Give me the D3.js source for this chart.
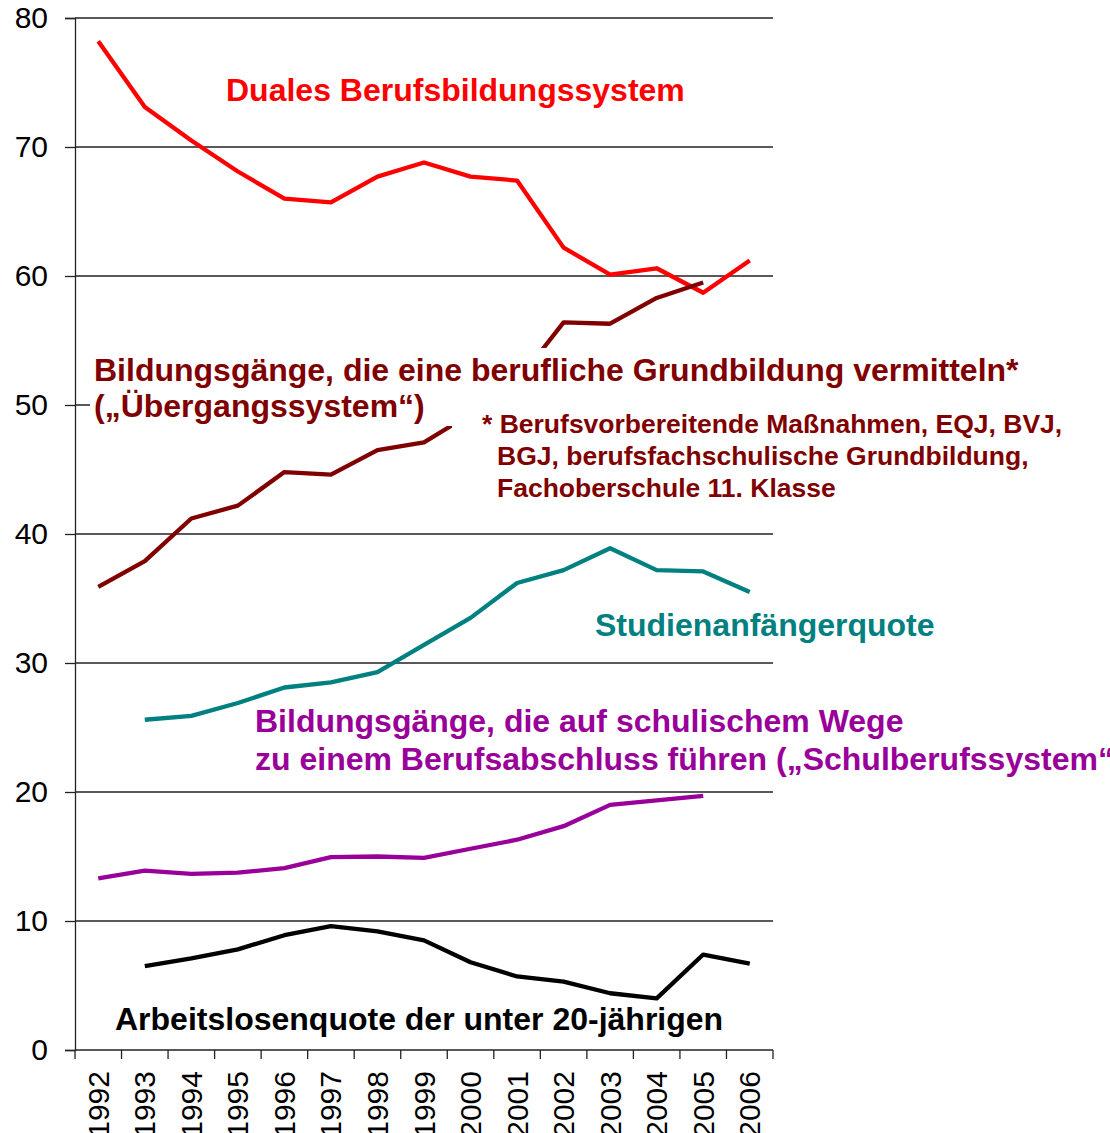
<!DOCTYPE html>
<html>
<head>
<meta charset="utf-8">
<script src="https://cdn.jsdelivr.net/npm/d3@7/dist/d3.min.js"></script>
<style>
  html, body { margin: 0; padding: 0; background: #fff; }
  svg { display: block; font-family: Arial, "Liberation Sans", sans-serif; }
</style>
</head>
<body>
<div id="chart"></div>
<script>
// --- Data ---
const YEARS = ["1992", "1993", "1994", "1995", "1996", "1997", "1998", "1999",
               "2000", "2001", "2002", "2003", "2004", "2005", "2006"];
const Y_TICKS = [0, 10, 20, 30, 40, 50, 60, 70, 80];

const DUALES      = [78.2, 73.1, 70.5, 68.1, 66.0, 65.7, 67.7, 68.8, 67.7, 67.4, 62.2, 60.1, 60.6, 58.7, 61.2];
const UEBERGANG   = [35.9, 37.9, 41.2, 42.2, 44.8, 44.6, 46.5, 47.1, 49.3, 51.8, 56.4, 56.3, 58.3, 59.5, null];
const STUDIEN     = [null, 25.6, 25.9, 26.9, 28.1, 28.5, 29.3, 31.4, 33.5, 36.2, 37.2, 38.9, 37.2, 37.1, 35.5];
const SCHULBERUF  = [13.3, 13.9, 13.65, 13.75, 14.1, 14.95, 15.0, 14.9, 15.6, 16.3, 17.35, 19.0, 19.35, 19.7, null];
const ARBEITSLOS  = [null, 6.5, 7.1, 7.8, 8.9, 9.6, 9.2, 8.5, 6.8, 5.7, 5.3, 4.4, 4.0, 7.4, 6.7];

const SERIES = [
  { name: "duales",     values: DUALES,     color: "#ff0000" },
  { name: "uebergang",  values: UEBERGANG,  color: "#800000" },
  { name: "studien",    values: STUDIEN,    color: "#008080" },
  { name: "schulberuf", values: SCHULBERUF, color: "#990099" },
  { name: "arbeitslos", values: ARBEITSLOS, color: "#000000" }
];

// --- Layout ---
const W = 1110, H = 1133;
const plotLeft = 75, plotRight = 773, plotTop = 18, plotBottom = 1050;

const svg = d3.select("#chart").append("svg")
  .attr("width", W).attr("height", H);

const x = d3.scaleBand().domain(YEARS).range([plotLeft, plotRight]).padding(0);
const y = d3.scaleLinear().domain([0, 80]).range([plotBottom, plotTop]);

// grid lines + y ticks
const yAxis = svg.append("g")
  .attr("transform", `translate(${plotLeft},0)`)
  .call(d3.axisLeft(y).tickValues(Y_TICKS).tickSize(10).tickPadding(17).tickFormat(d3.format("d")));
yAxis.select(".domain").attr("stroke", "#222").attr("stroke-width", 1.3);
yAxis.selectAll(".tick line").attr("stroke", "#222").attr("stroke-width", 1.3);
yAxis.selectAll(".tick text")
  .attr("font-size", 30).attr("fill", "#000")
  .attr("font-family", "Arial, 'Liberation Sans', sans-serif");

svg.append("g")
  .selectAll("line")
  .data(Y_TICKS)
  .join("line")
  .attr("x1", plotLeft).attr("x2", plotRight)
  .attr("y1", d => y(d)).attr("y2", d => y(d))
  .attr("stroke", "#222").attr("stroke-width", 1.3);

// x axis: tick marks at band boundaries, labels rotated in band centres
const boundaries = YEARS.map(d => x(d)).concat([x.range()[1]]);
svg.append("g")
  .selectAll("line")
  .data(boundaries)
  .join("line")
  .attr("x1", d => d).attr("x2", d => d)
  .attr("y1", plotBottom).attr("y2", plotBottom + 9)
  .attr("stroke", "#222").attr("stroke-width", 1.3);

svg.append("g")
  .selectAll("text")
  .data(YEARS)
  .join("text")
  .attr("transform", d => `translate(${x(d) + x.bandwidth() / 2},${plotBottom + 21}) rotate(-90)`)
  .attr("text-anchor", "end")
  .attr("dy", "0.35em")
  .attr("font-size", 30)
  .attr("fill", "#000")
  .text(d => d);

// --- Lines ---
const line = d3.line()
  .defined(d => d.v != null)
  .x(d => x(d.year) + x.bandwidth() / 2)
  .y(d => y(d.v));

SERIES.forEach(s => {
  const pts = YEARS.map((yr, i) => ({ year: yr, v: s.values[i] }));
  svg.append("path")
    .datum(pts)
    .attr("fill", "none")
    .attr("stroke", s.color)
    .attr("stroke-width", 4.3)
    .attr("stroke-linejoin", "round")
    .attr("d", line);
});

// --- Labels (white boxes behind the Übergang labels hide part of the line) ---
svg.append("rect").attr("x", 90).attr("y", 348).attr("width", 935).attr("height", 78).attr("fill", "#fff");
svg.append("rect").attr("x", 452).attr("y", 405).attr("width", 620).attr("height", 100).attr("fill", "#fff");

function label(lines, x0, y0, size, lh, color, extraX) {
  const t = svg.append("text")
    .attr("font-size", size)
    .attr("font-weight", "bold")
    .attr("fill", color);
  lines.forEach((l, i) => {
    t.append("tspan")
      .attr("x", x0 + (extraX ? extraX[i] : 0))
      .attr("y", y0 + i * lh)
      .text(l);
  });
}

label(["Duales Berufsbildungssystem"], 226, 101, 32, 0, "#ff0000");
label(["Bildungsgänge, die eine berufliche Grundbildung vermitteln*",
       "(„Übergangssystem“)"], 94, 381, 32, 36, "#800000");
label(["* Berufsvorbereitende Maßnahmen, EQJ, BVJ,",
       "BGJ, berufsfachschulische Grundbildung,",
       "Fachoberschule 11. Klasse"], 482, 433, 26.5, 32, "#800000", [0, 15, 15]);
label(["Studienanfängerquote"], 595, 636, 32, 0, "#008080");
label(["Bildungsgänge, die auf schulischem Wege",
       "zu einem Berufsabschluss führen („Schulberufssystem“)"], 255, 732, 32, 38, "#990099");
label(["Arbeitslosenquote der unter 20-jährigen"], 115, 1030, 32, 0, "#000000");
</script>
</body>
</html>
